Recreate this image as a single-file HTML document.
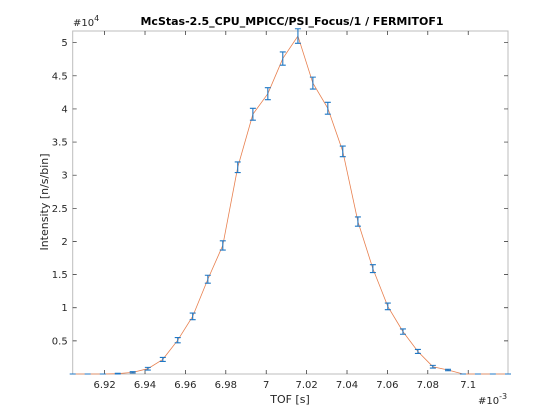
<!DOCTYPE html>
<html><head><meta charset="utf-8"><style>
body{margin:0;background:#fff;}
svg{display:block;font-family:"DejaVu Sans","Liberation Sans",sans-serif;}
</style></head><body>
<svg id="chart" width="560" height="420" viewBox="0 0 560 420" xmlns="http://www.w3.org/2000/svg">
<rect x="0" y="0" width="560" height="420" fill="#fff"/>
<rect x="72.7" y="31" width="435.3" height="343" fill="#fff"/>
<g id="grid"></g>
<g id="series"></g>
<text x="292" y="25" text-anchor="middle" font-size="11" font-weight="bold" fill="#000">McStas-2.5_CPU_MPICC/PSI_Focus/1 / FERMITOF1</text>
<text x="290" y="403" text-anchor="middle" font-size="11" fill="#262626">TOF [s]</text>
<text transform="translate(48,202) rotate(-90)" text-anchor="middle" font-size="11" fill="#262626">Intensity [n/s/bin]</text>
<text x="73" y="26" font-size="10" fill="#262626">#10<tspan dy="-5" font-size="8">4</tspan></text>
<text x="478" y="404" font-size="10" fill="#262626">#10<tspan dy="-5" font-size="8">-3</tspan></text>
</svg>
<script>
const xValues = [6.9042,6.9116,6.9191,6.9265,6.9339,6.9414,6.9488,6.9562,6.9636,6.9711,6.9785,6.9859,6.9934,7.0008,7.0082,7.0157,7.0231,7.0305,7.0379,7.0454,7.0528,7.0602,7.0677,7.0751,7.0825,7.0900,7.0974,7.1048,7.1122,7.1197];
const yValues = [0,0,0,0.005,0.025,0.08,0.22,0.51,0.87,1.43,1.94,3.12,3.92,4.23,4.76,5.10,4.39,4.01,3.36,2.30,1.59,1.02,0.64,0.34,0.11,0.06,0,0,0,0];
const yErrors = [0,0,0,0.005,0.01,0.02,0.03,0.04,0.05,0.06,0.07,0.08,0.09,0.09,0.1,0.11,0.09,0.09,0.08,0.07,0.06,0.05,0.04,0.03,0.02,0.01,0,0,0,0];
const xTicks = [6.92,6.94,6.96,6.98,7,7.02,7.04,7.06,7.08,7.1];
const xTickLabels = ["6.92","6.94","6.96","6.98","7","7.02","7.04","7.06","7.08","7.1"];
const yTicks = [0.5,1,1.5,2,2.5,3,3.5,4,4.5,5];
const yTickLabels = ["0.5","1","1.5","2","2.5","3","3.5","4","4.5","5"];
const L=72.7,R=508,T=31,B=374;
const X0=6.9042,X1=7.1197,YMAX=5.176;
function xs(v){return L+(v-X0)/(X1-X0)*(R-L);}
function ys(v){return B-v/YMAX*(B-T);}
const NS="http://www.w3.org/2000/svg";
const grid=document.getElementById('grid'), ser=document.getElementById('series');
function mk(tag,attrs,parent){const e=document.createElementNS(NS,tag);for(const k in attrs)e.setAttribute(k,attrs[k]);parent.appendChild(e);return e;}
const box=mk('rect',{x:L,y:T,width:R-L,height:B-T,fill:'none',stroke:'#bdbdbd','stroke-width':1},grid);


xTicks.forEach((t,i)=>{
  const x=xs(t);
  const tk=mk('path',{d:`M${x},${B}V${B-4}M${x},${T}V${T+4}`,stroke:'#262626','stroke-width':0.7},grid);
  
  
  const lb=mk('text',{x:x,y:B+14,'text-anchor':'middle','font-size':10,fill:'#262626'},grid);
  lb.textContent=xTickLabels[i];
  
  
});
yTicks.forEach((t,i)=>{
  const y=ys(t);
  const tk=mk('path',{d:`M${L},${y}H${L+4}M${R},${y}H${R-4}`,stroke:'#262626','stroke-width':0.7},grid);
  
  
  const lb=mk('text',{x:L-5,y:y+3.5,'text-anchor':'end','font-size':10,fill:'#262626'},grid);
  lb.textContent=yTickLabels[i];
  
  
});
const pts=xValues.map((x,i)=>`${xs(x).toFixed(2)},${ys(yValues[i]).toFixed(2)}`).join(' ');
const line=mk('polyline',{points:pts,fill:'none',stroke:'#e8804f','stroke-width':0.8},ser);


xValues.forEach((x,i)=>{
  const cx=xs(x),y1=ys(yValues[i]-yErrors[i]),y2=ys(yValues[i]+yErrors[i]);
  const eb=mk('path',{d:`M${cx},${y1}V${y2}M${cx-3},${y1}H${cx+3}M${cx-3},${y2}H${cx+3}`,stroke:'#1f77c4','stroke-width':1.1,fill:'none'},ser);
  
  
});
</script>
</body></html>
